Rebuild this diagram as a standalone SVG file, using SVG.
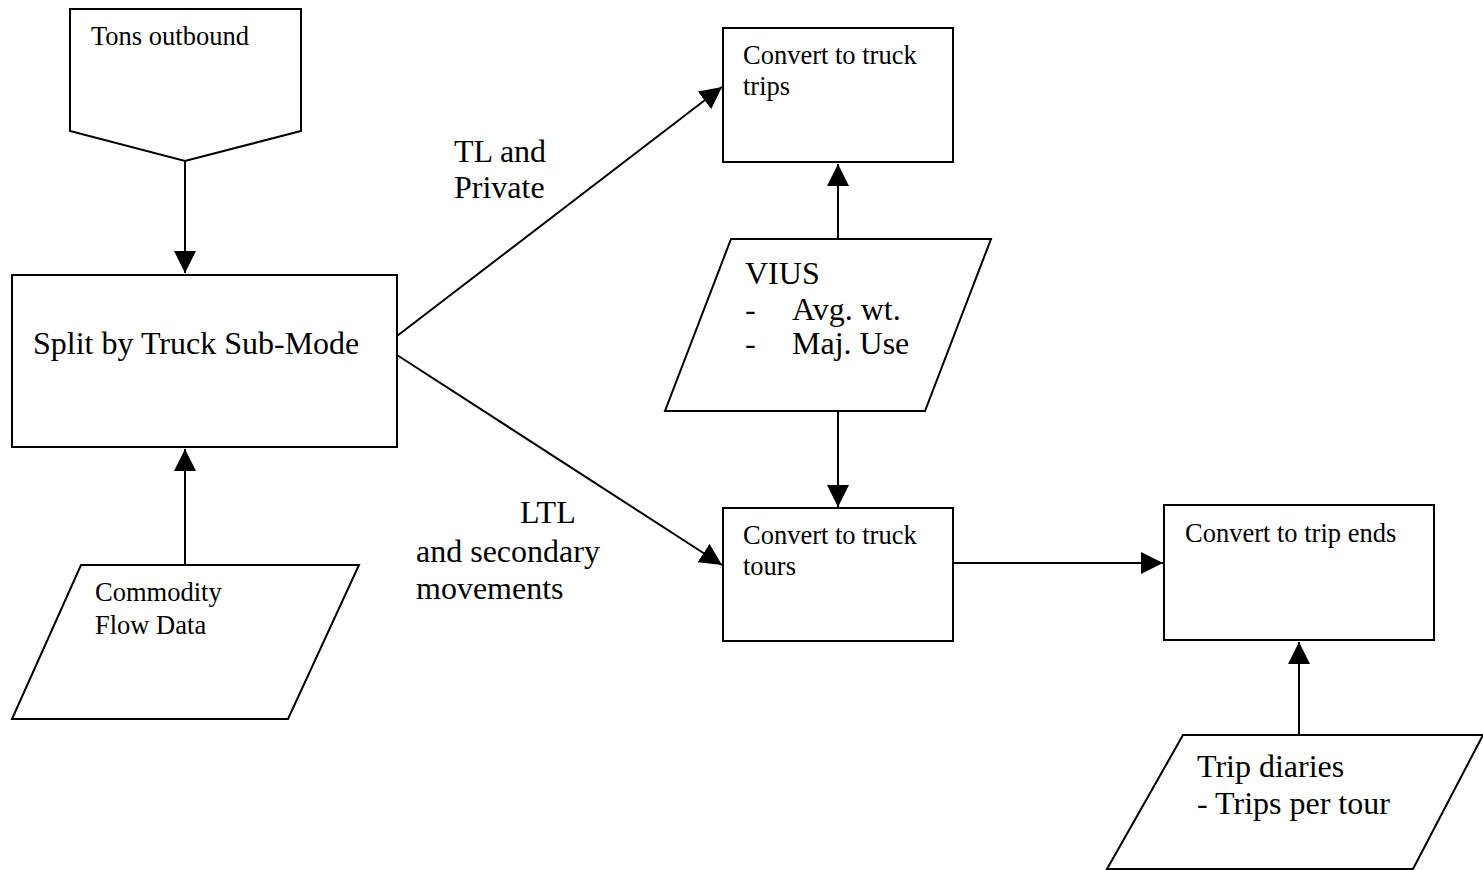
<svg xmlns="http://www.w3.org/2000/svg" width="1483" height="870" viewBox="0 0 1483 870">
<style>
.s{fill:#fff;stroke:#000;stroke-width:2}
.c{fill:none;stroke:#000;stroke-width:2}
text{font-family:"Liberation Serif","Times New Roman",serif;fill:#000}
.t22{font-size:26.5px}
.t26{font-size:32px}
.t28{font-size:32px}
</style>
<defs>
<marker id="ah" markerUnits="userSpaceOnUse" markerWidth="22" markerHeight="22" viewBox="0 0 20 20" refX="20" refY="10" orient="auto">
<path d="M0,0 L20,10 L0,20 Z" fill="#000"/>
</marker>
</defs>
<rect width="1483" height="870" fill="#fff"/>
<g id="connectors">
<line class="c" x1="185" y1="161" x2="185" y2="273" marker-end="url(#ah)"/>
<line class="c" x1="185" y1="565" x2="185" y2="449" marker-end="url(#ah)"/>
<line class="c" x1="397" y1="336" x2="722" y2="87" marker-end="url(#ah)"/>
<line class="c" x1="397" y1="355" x2="722" y2="565" marker-end="url(#ah)"/>
<line class="c" x1="838" y1="239" x2="838" y2="164" marker-end="url(#ah)"/>
<line class="c" x1="838" y1="411" x2="838" y2="507" marker-end="url(#ah)"/>
<line class="c" x1="953" y1="563" x2="1163" y2="563" marker-end="url(#ah)"/>
<line class="c" x1="1299" y1="735" x2="1299" y2="642" marker-end="url(#ah)"/>
<text class="t26" x="454" y="162">TL and</text>
<text class="t26" x="454" y="198">Private</text>
<text class="t26" x="520" y="523">LTL</text>
<text class="t26" x="416" y="562">and secondary</text>
<text class="t26" x="416" y="599">movements</text>
</g>
<g id="tons">
<path class="s" d="M70,9 L301,9 L301,131 L185,161 L70,131 Z"/>
<text class="t22" x="91" y="45">Tons outbound</text>
</g>
<g id="split">
<rect class="s" x="12" y="275" width="385" height="172"/>
<text class="t28" x="33" y="354">Split by Truck Sub-Mode</text>
</g>
<g id="commodity">
<path class="s" d="M81,565 L359,565 L288,719 L12,719 Z"/>
<text class="t22" x="95" y="601">Commodity</text>
<text class="t22" x="95" y="634">Flow Data</text>
</g>
<g id="trips">
<rect class="s" x="723" y="28" width="230" height="134"/>
<text class="t22" x="743" y="64">Convert to truck</text>
<text class="t22" x="743" y="95">trips</text>
</g>
<g id="vius">
<path class="s" d="M731,239 L991,239 L925,411 L665,411 Z"/>
<text class="t28" x="745" y="284">VIUS</text>
<text class="t28" x="745" y="320">-</text>
<text class="t28" x="792" y="320">Avg. wt.</text>
<text class="t28" x="745" y="354">-</text>
<text class="t28" x="792" y="354">Maj. Use</text>
</g>
<g id="tours">
<rect class="s" x="723" y="508" width="230" height="133"/>
<text class="t22" x="743" y="544">Convert to truck</text>
<text class="t22" x="743" y="575">tours</text>
</g>
<g id="tripends">
<rect class="s" x="1164" y="505" width="270" height="135"/>
<text class="t22" x="1185" y="542">Convert to trip ends</text>
</g>
<g id="diaries">
<path class="s" d="M1183,735 L1483,735 L1413,869 L1107,869 Z"/>
<text class="t28" x="1197" y="777">Trip diaries</text>
<text class="t28" x="1197" y="814">- Trips per tour</text>
</g>
</svg>
